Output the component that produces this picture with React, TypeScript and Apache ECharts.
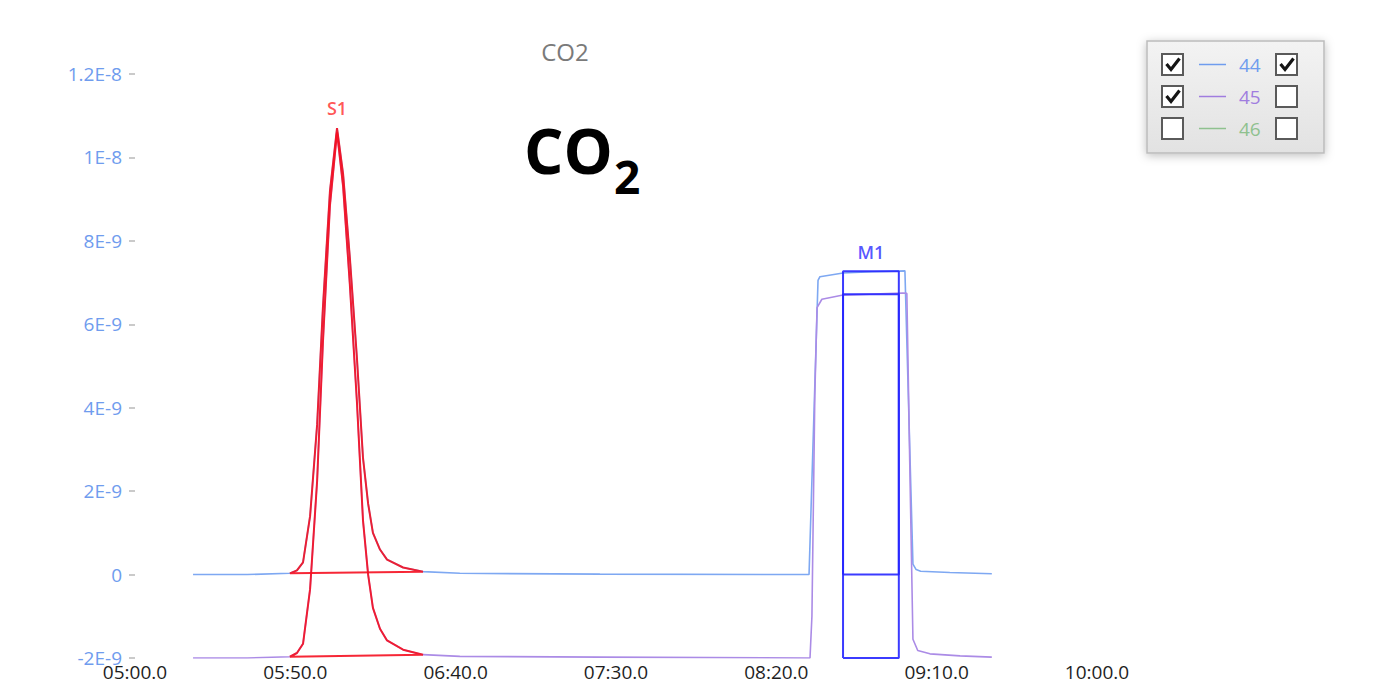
import React, { useEffect, useRef } from "react";
import * as echarts from "echarts";

// Values are in units of 1E-9 (labels add the exponent); x is seconds (05:00.0 = 300 s)
const X_MIN = 300;
const X_MAX = 600;
const X_STEP = 50;
const Y_MIN = -2;
const Y_MAX = 12;
const Y_STEP = 2;

const t44 = [318.1, 335.0, 348.3, 350.5, 352.4, 354.6, 356.8, 358.6, 360.8, 363.0, 364.9, 367.0, 369.2, 371.1, 372.7, 374.2, 376.4, 378.6, 383.6, 389.8, 401.3, 445.0, 510.2, 513.0, 513.6, 520.8, 530.0, 540.1, 542.6, 543.6, 545.0, 554.1, 567.2];
const v44 = [0.0, 0.0, 0.03, 0.1, 0.29, 1.4, 3.6, 6.4, 9.2, 10.7, 9.6, 7.6, 5.2, 2.8, 1.7, 1.0, 0.6, 0.36, 0.17, 0.07, 0.03, 0.01, 0.0, 7.05, 7.14, 7.23, 7.26, 7.28, 0.25, 0.12, 0.08, 0.05, 0.02];

const t45 = [318.1, 335.0, 348.3, 350.5, 352.4, 354.6, 356.8, 358.6, 360.8, 363.0, 364.9, 367.0, 369.2, 371.1, 372.7, 374.2, 376.4, 378.6, 383.6, 389.8, 401.3, 445.0, 510.5, 511.1, 512.0, 512.7, 514.2, 520.8, 539.5, 540.7, 541.6, 542.6, 544.1, 547.9, 557.3, 567.2];
const v45 = [-2.0, -2.0, -1.97, -1.88, -1.66, -0.35, 2.25, 5.55, 8.85, 10.6, 9.3, 6.95, 4.15, 1.3, 0.0, -0.8, -1.3, -1.58, -1.8, -1.92, -1.96, -1.98, -2.0, -1.0, 4.3, 6.4, 6.6, 6.7, 6.75, 6.74, 2.7, -1.55, -1.82, -1.9, -1.95, -1.98];

// S1 integration window (peak) and M1 window (reference gas)
const S1_FROM = 348.3;
const S1_TO = 389.8;
const S1_LABEL = "S1";
const M1_FROM = 520.8;
const M1_TO = 538.2;
const M1_TOP44 = 7.27;
const M1_BASE44 = 0;
const M1_TOP45 = 6.72;
const M1_BASE45 = -2;
const M1_LABEL = "M1";

const legendNames = ["44", "45", "46"];
const legendColors = ["#6f9cee", "#a07ddf", "#8fc18f"];
const legendLeftChecked = [true, true, false];
const legendRightChecked = [true, false, false];

const TITLE = "CO2";

const BLUE = "#7ea8f2";
const PURPLE = "#ab8be6";
const RED = "#f51020";
const BOX = "#2626ff";

function zip(t: number[], v: number[]) {
  return t.map((x, i) => [x, v[i]]);
}

function windowed(t: number[], v: number[], a: number, b: number) {
  const pts: number[][] = [];
  t.forEach((x, i) => {
    if (x >= a - 1e-6 && x <= b + 1e-6) pts.push([x, v[i]]);
  });
  if (pts.length) pts.push([pts[0][0], pts[0][1]]);
  return pts;
}

function pad(n: number) {
  return n < 10 ? "0" + n : "" + n;
}

export default function App() {
  const ref = useRef<HTMLDivElement>(null);
  useEffect(() => {
    if (!ref.current) return;
    const chart = echarts.init(ref.current, undefined, { renderer: "svg" });
    const font = "'Open Sans', 'Noto Sans', sans-serif";

    const s1_44 = windowed(t44, v44, S1_FROM, S1_TO);
    const s1_45 = windowed(t45, v45, S1_FROM, S1_TO);
    let apexIdx = 0;
    s1_44.forEach((p, i) => {
      if (p[1] > s1_44[apexIdx][1]) apexIdx = i;
    });
    const apex = s1_44[apexIdx];

    const box44 = [
      [M1_FROM, M1_BASE44],
      [M1_FROM, M1_TOP44],
      [M1_TO, M1_TOP44],
      [M1_TO, M1_BASE44],
      [M1_FROM, M1_BASE44],
    ];
    const box45 = [
      [M1_FROM, M1_BASE45],
      [M1_FROM, M1_TOP45],
      [M1_TO, M1_TOP45],
      [M1_TO, M1_BASE45],
      [M1_FROM, M1_BASE45],
    ];

    const legendGraphics: any[] = [];
    const LX = 1147;
    const LY = 41;
    legendGraphics.push({
      type: "rect",
      shape: { x: LX, y: LY, width: 177, height: 112 },
      style: {
        fill: new echarts.graphic.LinearGradient(0, 0, 0, 1, [
          { offset: 0, color: "#f3f3f3" },
          { offset: 1, color: "#e2e2e2" },
        ]),
        stroke: "#bcbcbc",
        lineWidth: 1.5,
        shadowBlur: 10,
        shadowColor: "rgba(0,0,0,0.25)",
        shadowOffsetX: 0,
        shadowOffsetY: 2,
      },
      z: 100,
    });
    legendNames.forEach((name, i) => {
      const cy = 64.5 + i * 32;
      const addBox = (x: number, checked: boolean) => {
        legendGraphics.push({
          type: "rect",
          shape: { x, y: cy - 10.5, width: 21, height: 21 },
          style: { fill: "#fff", stroke: "#5a5a5a", lineWidth: 2 },
          z: 101,
        });
        if (checked) {
          legendGraphics.push({
            type: "polyline",
            shape: {
              points: [
                [x + 4.5, cy - 0.5],
                [x + 9, cy + 5],
                [x + 17.5, cy - 6],
              ],
            },
            style: { stroke: "#151515", lineWidth: 3.2, fill: "none" },
            z: 102,
          });
        }
      };
      addBox(1162, legendLeftChecked[i]);
      addBox(1276, legendRightChecked[i]);
      legendGraphics.push({
        type: "line",
        shape: { x1: 1199, y1: cy, x2: 1226, y2: cy },
        style: { stroke: legendColors[i], lineWidth: 1.5 },
        z: 101,
      });
      legendGraphics.push({
        type: "text",
        x: 1239,
        y: cy,
        style: {
          text: name,
          fill: legendColors[i],
          font: `19px ${font}`,
          textVerticalAlign: "middle",
          textAlign: "left",
        },
        z: 101,
      });
    });

    const markerLabel = (text: string, color: string, distance: number) => ({
      show: true,
      formatter: text,
      position: "top",
      distance,
      color,
      fontSize: 18,
      fontWeight: 600,
      fontFamily: font,
    });

    chart.setOption({
      animation: false,
      backgroundColor: "#ffffff",
      grid: { left: 135, right: 276, top: 74, bottom: 37, containLabel: false },
      xAxis: {
        type: "value",
        min: X_MIN,
        max: X_MAX,
        interval: X_STEP,
        axisLine: { show: false },
        axisTick: { show: false },
        splitLine: { show: false },
        axisLabel: {
          color: "#1e1e1e",
          fontSize: 19,
          fontFamily: font,
          margin: 4,
          formatter: (v: number) => {
            const m = Math.floor(v / 60);
            const s = Math.round(v - m * 60);
            return `${pad(m)}:${pad(s)}.0`;
          },
        },
      },
      yAxis: {
        type: "value",
        min: Y_MIN,
        max: Y_MAX,
        interval: Y_STEP,
        axisLine: { show: false },
        axisTick: { show: true, length: 6, lineStyle: { color: "#b8b8b8", width: 1.5 } },
        splitLine: { show: false },
        axisLabel: {
          color: "#6f9cee",
          fontSize: 19,
          fontFamily: font,
          margin: 13,
          formatter: (v: number) => {
            const n = Math.round(v);
            if (n === 0) return "0";
            if (Math.abs(n) >= 10) return `${n / 10}E-8`;
            return `${n}E-9`;
          },
        },
      },
      series: [
        {
          name: "44",
          type: "line",
          data: zip(t44, v44),
          symbol: "none",
          lineStyle: { color: BLUE, width: 1.6 },
          z: 2,
        },
        {
          name: "45",
          type: "line",
          data: zip(t45, v45),
          symbol: "none",
          lineStyle: { color: PURPLE, width: 1.6 },
          z: 2,
        },
        {
          name: "S1-44",
          type: "line",
          data: s1_44,
          symbol: "none",
          lineStyle: { color: RED, width: 2, opacity: 0.9 },
          z: 3,
        },
        {
          name: "S1-45",
          type: "line",
          data: s1_45,
          symbol: "none",
          lineStyle: { color: RED, width: 2, opacity: 0.9 },
          z: 3,
        },
        {
          name: "S1-label",
          type: "scatter",
          data: [apex],
          symbol: "circle",
          symbolSize: 2,
          itemStyle: { color: "rgba(0,0,0,0)" },
          label: markerLabel(S1_LABEL, "#ff2a2a", 10),
          silent: true,
          z: 5,
        },
        {
          name: "M1-44",
          type: "line",
          data: box44,
          symbol: "none",
          lineStyle: { color: BOX, width: 2, opacity: 0.9 },
          z: 4,
        },
        {
          name: "M1-45",
          type: "line",
          data: box45,
          symbol: "none",
          lineStyle: { color: BOX, width: 2, opacity: 0.9 },
          z: 4,
        },
        {
          name: "M1-label",
          type: "scatter",
          data: [[(M1_FROM + M1_TO) / 2, M1_TOP44]],
          symbol: "circle",
          symbolSize: 2,
          itemStyle: { color: "rgba(0,0,0,0)" },
          label: markerLabel(M1_LABEL, "#2a2aff", 9),
          silent: true,
          z: 5,
        },
      ],
      graphic: [
        {
          type: "text",
          x: 565,
          y: 51,
          style: {
            text: TITLE,
            fill: "#7a7a7a",
            font: `24px ${font}`,
            textAlign: "center",
            textVerticalAlign: "middle",
          },
        },
        {
          type: "text",
          x: 524,
          y: 150,
          style: {
            text: "CO",
            fill: "#000",
            font: `bold 62px ${font}`,
            textAlign: "left",
            textVerticalAlign: "middle",
          },
        },
        {
          type: "text",
          x: 614,
          y: 176,
          style: {
            text: "2",
            fill: "#000",
            font: `bold 46px ${font}`,
            textAlign: "left",
            textVerticalAlign: "middle",
          },
        },
        ...legendGraphics,
      ],
    });
    return () => chart.dispose();
  }, []);
  return (
    <div
      ref={ref}
      style={{ position: "fixed", left: 0, top: 0, width: 1373, height: 695, background: "#fff" }}
    />
  );
}
